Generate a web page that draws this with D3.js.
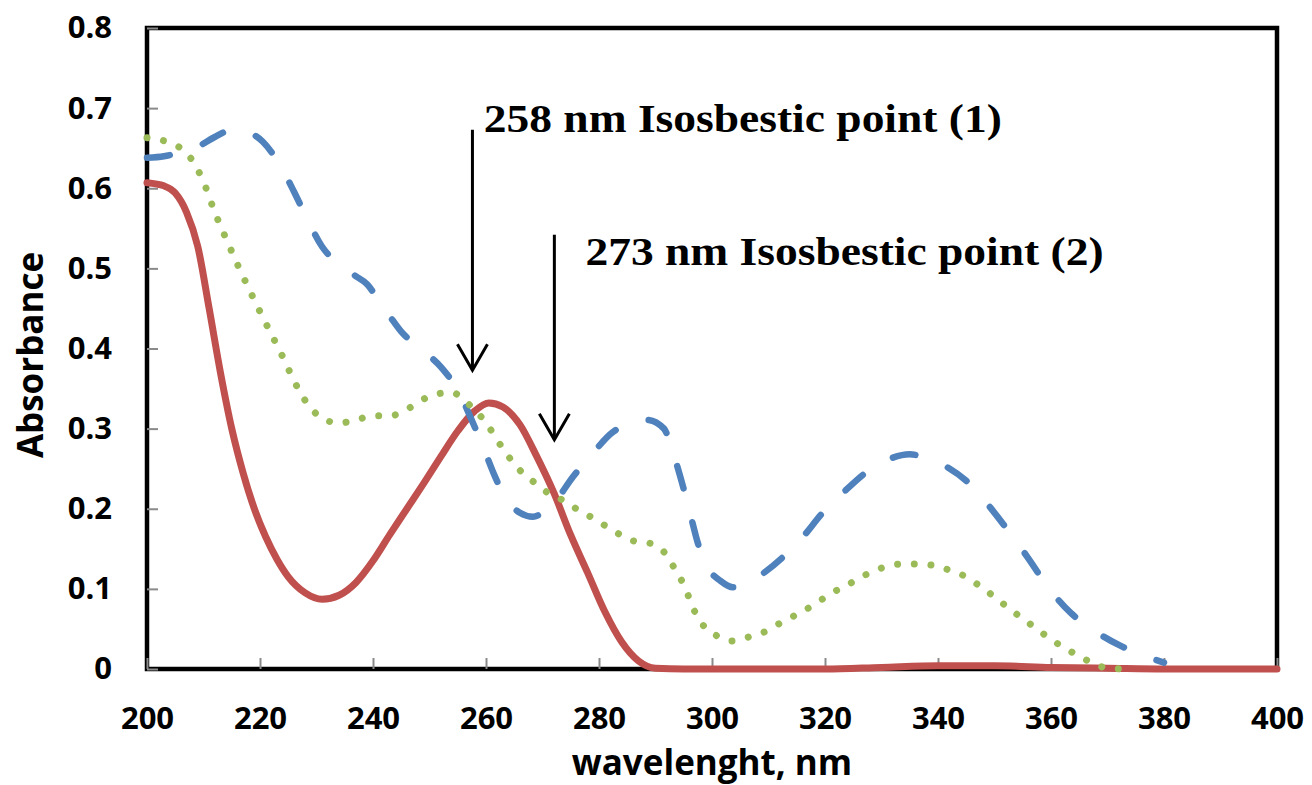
<!DOCTYPE html>
<html>
<head>
<meta charset="utf-8">
<script src="https://cdn.jsdelivr.net/npm/d3@7"></script>
<style>
  html, body { margin: 0; padding: 0; background: #fff; }
  svg { display: block; }
</style>
</head>
<body>
<svg id="chart" width="1312" height="785"></svg>
<script>
"use strict";

/* ── Data ────────────────────────────────────────────────────────── */

// Solid red series
const redWl  = [200, 203, 205, 207, 209, 211, 213, 215, 217, 219, 221, 223, 225, 228, 231, 234, 237, 240,
                243, 246, 249, 252, 255, 258, 260.5, 263, 266, 269, 272, 275, 278, 281, 284, 287, 290, 295,
                320, 330, 340, 350, 360, 370, 380, 400];
const redAbs = [0.607, 0.603, 0.594, 0.57, 0.527, 0.45, 0.37, 0.3, 0.245, 0.2, 0.165, 0.137, 0.115, 0.095,
                0.087, 0.092, 0.108, 0.135, 0.168, 0.2, 0.232, 0.265, 0.297, 0.322, 0.332, 0.327, 0.305,
                0.265, 0.22, 0.167, 0.12, 0.072, 0.034, 0.01, 0.001, 0, 0, 0.002, 0.004, 0.004, 0.002,
                0.001, 0, 0];

// Dashed blue series
const blueWl  = [200, 203, 206, 209, 212, 215.5, 218, 220.5, 223, 226, 228, 231, 234, 237, 239, 241, 243,
                 245, 248, 252, 255, 257.7, 259.5, 261.6, 263.7, 266, 268.3, 270, 272, 275.4, 278.4, 282.5,
                 285.5, 288.5, 291.5, 293.1, 294.9, 296.1, 297.5, 299.3, 301.5, 303.7, 306, 308, 312.6,
                 316.1, 319.6, 323.2, 327.4, 331, 335, 337.3, 341.6, 346.2, 349.2, 352.7, 355.8, 359.8,
                 363.5, 367.4, 372, 377, 380];
const blueAbs = [0.638, 0.64, 0.645, 0.652, 0.664, 0.674, 0.67, 0.658, 0.635, 0.596, 0.567, 0.527, 0.505,
                 0.49, 0.48, 0.46, 0.44, 0.421, 0.402, 0.377, 0.348, 0.307, 0.277, 0.24, 0.211, 0.195, 0.19,
                 0.195, 0.207, 0.24, 0.265, 0.296, 0.306, 0.311, 0.3, 0.27, 0.227, 0.195, 0.157, 0.126,
                 0.11, 0.102, 0.105, 0.114, 0.14, 0.165, 0.195, 0.22, 0.246, 0.261, 0.268, 0.265, 0.252,
                 0.227, 0.202, 0.17, 0.14, 0.099, 0.07, 0.049, 0.03, 0.015, 0.008];

// Dotted green series
const greenWl  = [200, 203.5, 206.5, 208, 210, 212, 214, 216, 218, 220, 222, 224, 226, 228, 231, 234, 237,
                  240, 243, 246, 248.5, 251, 254, 256.5, 258.5, 260.5, 263, 266, 268, 270.5, 273, 276, 279,
                  282, 286, 289, 291.5, 293, 295, 297, 299, 301, 303.5, 306.5, 309.5, 312, 315, 318, 321,
                  324, 327, 330, 333.5, 336.5, 339.5, 342.5, 345, 347.5, 350, 352.5, 355, 357.5, 360, 362.5,
                  365, 367.5, 370, 373.5];
const greenAbs = [0.663, 0.658, 0.647, 0.635, 0.608, 0.57, 0.537, 0.505, 0.475, 0.446, 0.418, 0.39, 0.36,
                  0.335, 0.313, 0.307, 0.311, 0.316, 0.316, 0.324, 0.335, 0.343, 0.345, 0.333, 0.32, 0.302,
                  0.275, 0.248, 0.236, 0.222, 0.213, 0.2, 0.188, 0.175, 0.16, 0.157, 0.146, 0.13, 0.105,
                  0.071, 0.05, 0.041, 0.035, 0.04, 0.047, 0.057, 0.068, 0.08, 0.094, 0.105, 0.117, 0.126,
                  0.131, 0.131, 0.129, 0.122, 0.115, 0.103, 0.09, 0.076, 0.063, 0.05, 0.037, 0.026, 0.016,
                  0.007, 0.001, 0];

const xTicks = [200, 220, 240, 260, 280, 300, 320, 340, 360, 380, 400];
const yTicks = [0, 0.1, 0.2, 0.3, 0.4, 0.5, 0.6, 0.7, 0.8];

// Isosbestic point annotations: arrow wavelength, arrow top / tip (absorbance), label anchor
const noteText   = ["258 nm Isosbestic point (1)", "273 nm Isosbestic point (2)"];
const noteWl     = [257.6, 272.1];
const noteTop    = [0.673, 0.542];
const noteTip    = [0.373, 0.286];
const noteLabelWl  = [259.6, 277.6];
const noteLabelAbs = [0.67, 0.504];

/* ── Layout ──────────────────────────────────────────────────────── */

const W = 1312, H = 785;
const plot = { left: 147, right: 1277, top: 28, bottom: 669 };

const svg = d3.select("#chart");

const x = d3.scaleLinear().domain([200, 400]).range([plot.left, plot.right]);
const y = d3.scaleLinear().domain([0, 0.8]).range([plot.bottom, plot.top]);

const SANS = "'Open Sans', 'DejaVu Sans', sans-serif";
const SERIF = "'Liberation Serif', 'Times New Roman', serif";

/* ── Frame ───────────────────────────────────────────────────────── */

svg.append("rect")
  .attr("x", plot.left).attr("y", plot.top)
  .attr("width", plot.right - plot.left).attr("height", plot.bottom - plot.top)
  .attr("fill", "#fff").attr("stroke", "#000").attr("stroke-width", 4.5);

/* ── Axes ────────────────────────────────────────────────────────── */

const yAxis = d3.axisLeft(y).tickValues(yTicks).tickSize(-11).tickPadding(35)
  .tickFormat(function (d) { return d === 0 ? "0" : d3.format(".1f")(d); });
const gy = svg.append("g").attr("transform", "translate(" + plot.left + ",0)").call(yAxis);

const xAxis = d3.axisBottom(x).tickValues(xTicks).tickSize(-11).tickPadding(38).tickFormat(d3.format("d"));
const gx = svg.append("g").attr("transform", "translate(0," + plot.bottom + ")").call(xAxis);

[gx, gy].forEach(function (g) {
  g.select(".domain").remove();
  g.selectAll(".tick line").attr("stroke", "#8a8a8a").attr("stroke-width", 2);
  g.selectAll(".tick text")
    .attr("fill", "#000")
    .attr("font-family", SANS)
    .attr("font-weight", 700)
    .attr("font-size", 31);
});

svg.append("text")
  .attr("x", (plot.left + plot.right) / 2)
  .attr("y", 775)
  .attr("text-anchor", "middle")
  .attr("font-family", SANS).attr("font-weight", 700).attr("font-size", 35)
  .text("wavelenght, nm");

svg.append("text")
  .attr("transform", "translate(43,355) rotate(-90)")
  .attr("text-anchor", "middle")
  .attr("font-family", SANS).attr("font-weight", 700).attr("font-size", 35)
  .text("Absorbance");

/* ── Series ──────────────────────────────────────────────────────── */

const line = d3.line()
  .x(function (d) { return x(d[0]); })
  .y(function (d) { return y(d[1]); })
  .curve(d3.curveMonotoneX);

const series = [
  { wl: redWl,   ab: redAbs,   color: "#c0504d", width: 7,   dash: null },
  { wl: blueWl,  ab: blueAbs,  color: "#4f81bd", width: 6.5, dash: "23 35" },
  { wl: greenWl, ab: greenAbs, color: "#9bbb59", width: 7,   dash: "0.01 16.7" },
];

series.forEach(function (s) {
  svg.append("path")
    .datum(d3.zip(s.wl, s.ab))
    .attr("fill", "none")
    .attr("stroke", s.color)
    .attr("stroke-width", s.width)
    .attr("stroke-linecap", "round")
    .attr("stroke-linejoin", "round")
    .attr("stroke-dasharray", s.dash)
    .attr("d", line);
});

/* ── Annotations ─────────────────────────────────────────────────── */

noteText.forEach(function (t, i) {
  const ax = x(noteWl[i]), y0 = y(noteTop[i]), y1 = y(noteTip[i]);
  const g = svg.append("g").attr("stroke", "#000").attr("stroke-width", 3).attr("fill", "none");
  g.append("line").attr("x1", ax).attr("x2", ax).attr("y1", y0).attr("y2", y1);
  g.append("path").attr("d", "M" + (ax - 15) + "," + (y1 - 26) + "L" + ax + "," + y1 + "L" + (ax + 15) + "," + (y1 - 26));

  /* the reference label is set a little wider than plain Times Bold */
  svg.append("text")
    .attr("transform", "translate(" + x(noteLabelWl[i]) + "," + y(noteLabelAbs[i]) + ") scale(1.11,1)")
    .attr("font-family", SERIF).attr("font-weight", 700).attr("font-size", 41)
    .attr("fill", "#000")
    .text(t);
});
</script>
</body>
</html>
